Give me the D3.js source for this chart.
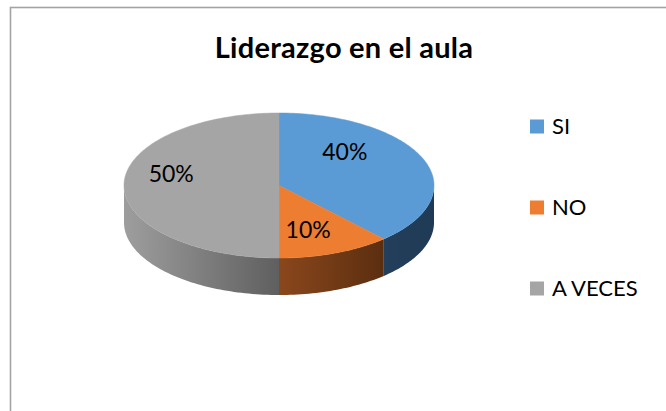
<!DOCTYPE html>
<html><head><meta charset="utf-8">
<script src="https://cdn.jsdelivr.net/npm/d3@7"></script>
<style>html,body{margin:0;padding:0;background:#fff;}svg{display:block;}</style>
</head><body>
<script>
const categories = ["SI", "NO", "A VECES"];
const values = [40, 10, 50];
const labels = ["40%", "10%", "50%"];
const title = "Liderazgo en el aula";

const W = 666, H = 411;
const colors = ["#5b9bd5", "#ed7d31", "#a5a5a5"];
const sideFrom = ["#233f5b", "#8a471c", "#9e9e9e"];
const sideTo = ["#1f3a55", "#5b2e10", "#5f5f5f"];

const svg = d3.select("body").append("svg").attr("width", W).attr("height", H);
const defs = svg.append("defs");

// chart border
svg.append("rect").attr("x", 10.5).attr("y", 7.5).attr("width", W + 10).attr("height", H + 10)
  .attr("fill", "#fff").attr("stroke", "#a3a3a3").attr("stroke-width", 1.6);

svg.append("text").attr("x", 344).attr("y", 58).attr("text-anchor", "middle")
  .attr("font-family", "Lato, 'Open Sans', sans-serif").attr("font-weight", "bold")
  .attr("font-size", 29).attr("letter-spacing", 0.25).attr("fill", "#000").text(title);

const cx = 279, cy = 185.5, rx = 155, ry = 72.5, depth = 37;
const warp = a => a + 0.12 * Math.sin(2 * a); // mimic the 3-D perspective of the original
const px = a => cx + rx * Math.sin(warp(a));
const py = a => cy - ry * Math.cos(warp(a));

const pie = d3.pie().sort(null).value(d => d)(values);

function arcPts(a0, a1, dy) {
  const n = Math.max(2, Math.ceil(Math.abs(a1 - a0) / 0.02));
  return d3.range(n + 1).map(i => {
    const a = a0 + (a1 - a0) * i / n;
    return [px(a), py(a) + dy];
  });
}

// side walls (front half only)
pie.forEach((s, i) => {
  const a0 = Math.max(s.startAngle, Math.PI / 2);
  const a1 = Math.min(s.endAngle, 3 * Math.PI / 2);
  if (a1 <= a0) return;
  const top = arcPts(a0, a1, 0);
  const bot = arcPts(a1, a0, depth);
  const xs = top.map(p => p[0]);
  const gid = "side" + i;
  const g = defs.append("linearGradient").attr("id", gid).attr("gradientUnits", "userSpaceOnUse")
    .attr("x1", d3.min(xs)).attr("x2", d3.max(xs)).attr("y1", 0).attr("y2", 0);
  g.append("stop").attr("offset", 0).attr("stop-color", sideFrom[i]);
  g.append("stop").attr("offset", 1).attr("stop-color", sideTo[i]);
  svg.append("path").attr("d", d3.line()(top.concat(bot)) + "Z").attr("fill", `url(#${gid})`);
});

// top faces
pie.forEach((s, i) => {
  const pts = [[cx, cy]].concat(arcPts(s.startAngle, s.endAngle, 0));
  svg.append("path").attr("d", d3.line()(pts) + "Z").attr("fill", colors[i])
    .attr("stroke", colors[i]).attr("stroke-width", 0.5);
});

// data labels
const adj = [[-30, -19], [-2, 0], [-7, -12]];
pie.forEach((s, i) => {
  const m = (s.startAngle + s.endAngle) / 2;
  const x = cx + 0.65 * rx * Math.sin(m) + adj[i][0];
  const y = cy - 0.65 * ry * Math.cos(m) + adj[i][1];
  svg.append("text").attr("x", x).attr("y", y).attr("dy", "0.35em").attr("text-anchor", "middle")
    .attr("font-family", "Lato, 'Open Sans', sans-serif").attr("font-size", 23).attr("fill", "#000")
    .text(labels[i]);
});

// legend
const ly = d3.scalePoint().domain(categories).range([126.5, 288.5]);
const leg = svg.append("g").selectAll("g").data(categories).join("g")
  .attr("transform", d => `translate(530,${ly(d)})`);
leg.append("rect").attr("x", 0).attr("y", -7).attr("width", 14).attr("height", 14)
  .attr("fill", (d, i) => colors[i]);
leg.append("text").attr("x", 22).attr("y", 0).attr("dy", "0.36em")
  .attr("font-family", "Lato, 'Open Sans', sans-serif").attr("font-size", 22).attr("fill", "#000")
  .text(d => d);
</script>
</body></html>
